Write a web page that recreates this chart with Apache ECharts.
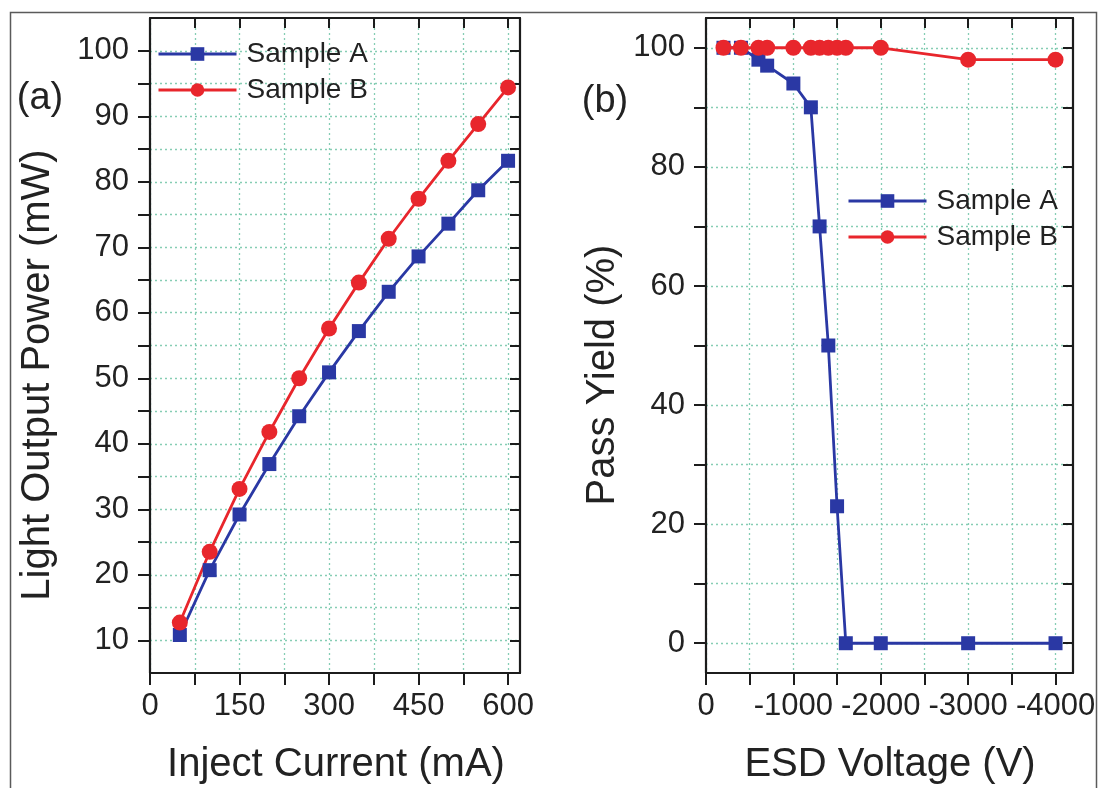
<!DOCTYPE html>
<html>
<head>
<meta charset="utf-8">
<script src="https://cdn.jsdelivr.net/npm/echarts@6/dist/echarts.min.js"></script>
<style>
  html, body { margin: 0; padding: 0; background: #ffffff; }
  #chart { width: 1101px; height: 788px; }
</style>
</head>
<body>
<div id="chart"></div>
<script>
// (a) Light output power versus injection current
const currentMA = [50, 100, 150, 200, 250, 300, 350, 400, 450, 500, 550, 600];
const powerA = [10.8, 20.7, 29.2, 36.9, 44.2, 50.9, 57.2, 63.2, 68.6, 73.6, 78.7, 83.2];
const powerB = [12.7, 23.5, 33.1, 41.8, 50.0, 57.6, 64.6, 71.3, 77.4, 83.2, 88.8, 94.4];

// (b) ESD pass yield versus ESD voltage
const esdVoltage = [-200, -400, -600, -700, -1000, -1200, -1300, -1400, -1500, -1600, -2000, -3000, -4000];
const yieldA = [100, 100, 98, 97, 94, 90, 70, 50, 23, 0, 0, 0, 0];
const yieldB = [100, 100, 100, 100, 100, 100, 100, 100, 100, 100, 100, 98, 98];

// Tick marks and labelled ticks
const currentTicks = [0, 75, 150, 225, 300, 375, 450, 525, 600];
const currentLabels = [0, 150, 300, 450, 600];
const powerTicks = [10, 15, 20, 25, 30, 35, 40, 45, 50, 55, 60, 65, 70, 75, 80, 85, 90, 95, 100];
const powerLabels = [10, 20, 30, 40, 50, 60, 70, 80, 90, 100];
const voltageTicks = [0, -500, -1000, -1500, -2000, -2500, -3000, -3500, -4000];
const voltageLabels = [0, -1000, -2000, -3000, -4000];
const yieldTicks = [0, 10, 20, 30, 40, 50, 60, 70, 80, 90, 100];
const yieldLabels = [0, 20, 40, 60, 80, 100];

const FONT = '"Liberation Sans", Arial, sans-serif';
const INK = '#1c1c1c';
const BLUE = '#2a38a4';
const RED = '#e8262c';
const GRIDLINE = '#86cdb4';

function pairs(xs, ys) { return xs.map((x, i) => [x, ys[i]]); }

// Main axis: outward ticks, labels, dotted grid
function mainAxis(kind, grid, min, max, ticks, labels, extra) {
  const horizontal = kind === 'x';
  return Object.assign({
    type: 'value', gridIndex: grid, min: min, max: max,
    position: horizontal ? 'bottom' : 'left',
    axisLine: { show: true, onZero: false, lineStyle: { color: INK, width: 2.2 } },
    axisTick: { show: true, inside: false, length: 12, customValues: ticks,
                lineStyle: { color: INK, width: 2 } },
    axisLabel: { show: true, customValues: labels, margin: horizontal ? 18 : 21,
                 fontSize: 31, fontFamily: FONT, color: '#222',
                 formatter: v => String(v) },
    splitLine: { show: true, lineStyle: { type: [2, 3], color: GRIDLINE, width: 1.3 } }
  }, extra || {});
}

// Mirror axis on the opposite side: inward ticks only
function mirrorAxis(kind, grid, min, max, ticks, extra) {
  const horizontal = kind === 'x';
  return Object.assign({
    type: 'value', gridIndex: grid, min: min, max: max,
    position: horizontal ? 'top' : 'right',
    axisLine: { show: true, onZero: false, lineStyle: { color: INK, width: 2.2 } },
    axisTick: { show: true, inside: true, length: 10, customValues: ticks,
                lineStyle: { color: INK, width: 2 } },
    axisLabel: { show: false },
    splitLine: { show: false }
  }, extra || {});
}

function legendAt(left, top) {
  return {
    orient: 'vertical', left: left, top: top, padding: 0,
    itemWidth: 78, itemHeight: 17, itemGap: 8,
    selectedMode: false,
    data: ['Sample A', 'Sample B'],
    lineStyle: { width: 3 },
    textStyle: { fontSize: 28, lineHeight: 28, fontFamily: FONT, color: '#222',
                 padding: [0, 0, 0, 5] }
  };
}

function lineSeries(name, xi, yi, data, symbol, size, color) {
  return {
    name: name, type: 'line', xAxisIndex: xi, yAxisIndex: yi, data: data,
    symbol: symbol, symbolSize: size, showSymbol: true,
    lineStyle: { width: 2.8, color: color }, itemStyle: { color: color },
    emphasis: { disabled: true }, animation: false, z: 3
  };
}

function label(text, x, y, size, rotation) {
  return {
    type: 'text', x: x, y: y, rotation: rotation || 0, silent: true,
    style: { text: text, fontSize: size, fontFamily: FONT, fill: '#222',
             align: 'center', verticalAlign: 'middle' }
  };
}

const chart = echarts.init(document.getElementById('chart'), null, { renderer: 'canvas' });
chart.setOption({
  backgroundColor: '#ffffff',
  animation: false,
  grid: [
    { left: 150, top: 18, width: 370, height: 655 },
    { left: 706, top: 18, width: 367, height: 655 }
  ],
  xAxis: [
    mainAxis('x', 0, 0, 620, currentTicks, currentLabels),
    mirrorAxis('x', 0, 0, 620, currentTicks),
    mainAxis('x', 1, -4200, 0, voltageTicks, voltageLabels, { inverse: true }),
    mirrorAxis('x', 1, -4200, 0, voltageTicks, { inverse: true })
  ],
  yAxis: [
    mainAxis('y', 0, 5, 105, powerTicks, powerLabels),
    mirrorAxis('y', 0, 5, 105, powerTicks),
    mainAxis('y', 1, -5, 105, yieldTicks, yieldLabels),
    mirrorAxis('y', 1, -5, 105, yieldTicks)
  ],
  legend: [legendAt(157, 40), legendAt(847, 187)],
  series: [
    lineSeries('Sample A', 0, 0, pairs(currentMA, powerA), 'rect', 14, BLUE),
    lineSeries('Sample B', 0, 0, pairs(currentMA, powerB), 'circle', 16, RED),
    lineSeries('Sample A', 2, 2, pairs(esdVoltage, yieldA), 'rect', 14, BLUE),
    lineSeries('Sample B', 2, 2, pairs(esdVoltage, yieldB), 'circle', 16, RED)
  ],
  graphic: [
    { type: 'rect', silent: true, z: -10,
      shape: { x: 10.5, y: 12.5, width: 1086, height: 800 },
      style: { fill: 'none', stroke: '#5a5a5a', lineWidth: 1.5 } },
    label('(a)', 40, 99, 38),
    label('(b)', 605, 102, 38),
    label('Light Output Power (mW)', 38, 375, 40, Math.PI / 2),
    label('Pass Yield (%)', 603, 375, 40, Math.PI / 2),
    label('Inject Current (mA)', 336, 765, 40),
    label('ESD Voltage (V)', 890, 765, 40)
  ]
});
</script>
</body>
</html>
